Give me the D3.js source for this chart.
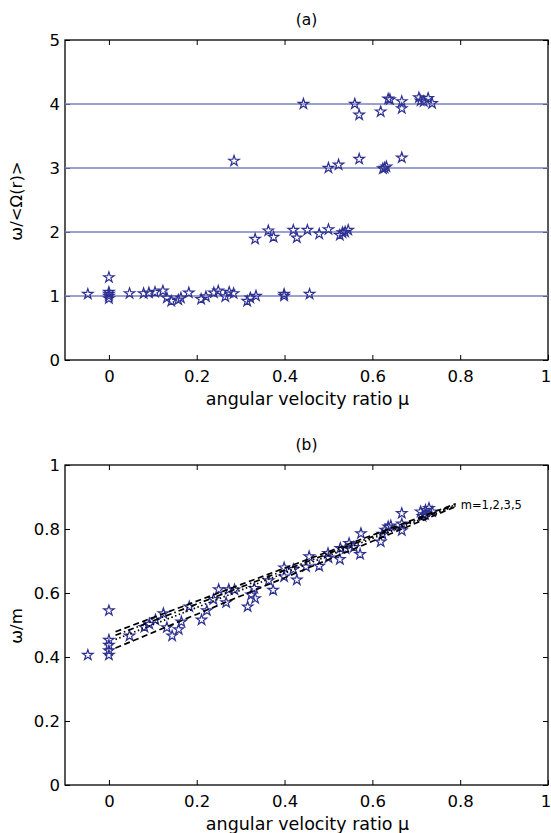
<!DOCTYPE html>
<html>
<head>
<meta charset="utf-8">
<script src="https://cdn.jsdelivr.net/npm/d3@7/dist/d3.min.js"></script>
<style>
  html, body { margin: 0; padding: 0; background: #fff; }
  svg { display: block; font-family: "DejaVu Sans", "Open Sans", sans-serif; }
</style>
</head>
<body>
<svg id="chart" width="551" height="833"></svg>
<script>
// panel (a): omega / <Omega(r)> against mu
const muA = [
  -0.048, 0, 0, 0, 0, 0, 0.047, 0.079, 0.091, 0.105, 0.123, 0.132, 0.142, 0.158, 0.164,
  0.182, 0.21, 0.221, 0.239, 0.249, 0.265, 0.274, 0.284, 0.315, 0.322, 0.335, 0.399, 0.399, 0.457,
  0.333, 0.363, 0.375, 0.42, 0.428, 0.452, 0.479, 0.5, 0.526, 0.532, 0.538, 0.545,
  0.285, 0.5, 0.523, 0.57, 0.624, 0.628, 0.632, 0.667,
  0.443, 0.56, 0.57, 0.619, 0.636, 0.64, 0.667, 0.667, 0.706, 0.71, 0.717, 0.727, 0.736
];
const omegaA = [
  1.03, 1.29, 1.06, 1.03, 1.0, 0.96, 1.04, 1.04, 1.05, 1.06, 1.08, 0.97, 0.92, 0.94, 0.97,
  1.05, 0.95, 0.99, 1.05, 1.08, 0.99, 1.06, 1.04, 0.92, 0.97, 1.0, 1.03, 1.0, 1.03,
  1.89, 2.02, 1.92, 2.03, 1.91, 2.03, 1.97, 2.04, 1.95, 1.99, 2.0, 2.03,
  3.11, 3.0, 3.05, 3.14, 2.99, 3.0, 3.02, 3.16,
  4.0, 4.0, 3.83, 3.88, 4.08, 4.07, 4.04, 3.93, 4.1, 4.05, 4.04, 4.09, 4.01
];
const levelsA = [1, 2, 3, 4];

// panel (b): omega / m against mu
const muB = [
  -0.048, 0, 0, 0, 0, 0, 0.047, 0.081, 0.092, 0.106, 0.124, 0.132, 0.144, 0.159, 0.165,
  0.183, 0.211, 0.223, 0.238, 0.25, 0.267, 0.273, 0.286, 0.316, 0.324, 0.331, 0.333,
  0.364, 0.374, 0.399, 0.399, 0.42, 0.428, 0.449, 0.456, 0.479, 0.499, 0.5, 0.526, 0.527,
  0.539, 0.547, 0.558, 0.572, 0.574, 0.619, 0.623, 0.629, 0.636, 0.642, 0.667, 0.667, 0.667,
  0.71, 0.714, 0.72, 0.721, 0.729, 0.736
];
const omegaB = [
  0.406, 0.545, 0.453, 0.437, 0.42, 0.406, 0.466, 0.493, 0.503, 0.516, 0.536, 0.492, 0.466, 0.486, 0.51,
  0.557, 0.516, 0.545, 0.58, 0.611, 0.57, 0.611, 0.61, 0.557, 0.594, 0.615, 0.583,
  0.639, 0.609, 0.679, 0.651, 0.674, 0.641, 0.682, 0.714, 0.684, 0.724, 0.71, 0.705, 0.74,
  0.738, 0.755, 0.743, 0.721, 0.786, 0.76, 0.784, 0.797, 0.807, 0.81, 0.849, 0.816, 0.795,
  0.854, 0.84, 0.845, 0.859, 0.865, 0.854
];

// fitted lines for m = 1, 2, 3, 5
const fitM = [1, 2, 3, 5];
const fitMu = [0.015, 0.79];
const fitStart = [0.479, 0.468, 0.455, 0.428];
const fitEnd = [0.879, 0.876, 0.873, 0.870];
const fitDash = ['6,3.5', '6,3,1.5,3', '1.5,2.5', '6,3.5'];

const xTicks = [0, 0.2, 0.4, 0.6, 0.8, 1];
const yTicksA = [0, 1, 2, 3, 4, 5];
const yTicksB = [0, 0.2, 0.4, 0.6, 0.8, 1];

const STAR = '#2e3192';
const LEVEL = '#7a80bf';
const FONT = '"DejaVu Sans", "Open Sans", sans-serif';
const left = 65, right = 548;

const svg = d3.select('#chart');
const fmt = d3.format('~g');

function drawPanel(top, bottom, yDomain, yTicks, title, yLabel) {
  const x = d3.scaleLinear().domain([-0.1, 1]).range([left, right]);
  const y = d3.scaleLinear().domain(yDomain).range([bottom, top]);
  const g = svg.append('g');

  g.append('text')
    .attr('x', (left + right) / 2)
    .attr('y', top - 15)
    .attr('text-anchor', 'middle')
    .attr('font-size', 15.5)
    .text(title);

  const axes = [
    [d3.axisBottom(x), `translate(0,${bottom})`, true],
    [d3.axisTop(x), `translate(0,${top})`, false],
    [d3.axisLeft(y), `translate(${left},0)`, true],
    [d3.axisRight(y), `translate(${right},0)`, false]
  ];
  axes.forEach(([axis, tr, labels], i) => {
    axis.tickValues(i < 2 ? xTicks : yTicks)
      .tickSizeInner(-5)
      .tickSizeOuter(0)
      .tickPadding(i < 2 ? 10 : 5)
      .tickFormat(labels ? fmt : '');
    const ag = g.append('g').attr('transform', tr).call(axis);
    ag.select('.domain').remove();
    ag.selectAll('line').attr('stroke', '#000').attr('stroke-width', 1);
    ag.selectAll('text').attr('font-size', 16.5).attr('fill', '#000')
      .attr('font-family', FONT);
    // keep the last x label inside the picture edge
    if (i === 0) ag.selectAll('text').filter((d) => d === 1).attr('dx', -2.5);
  });

  g.append('rect')
    .attr('x', left).attr('y', top)
    .attr('width', right - left).attr('height', bottom - top)
    .attr('fill', 'none').attr('stroke', '#000').attr('stroke-width', 1.3);

  g.append('text')
    .attr('x', (left + right) / 2 + 1)
    .attr('y', bottom + 45)
    .attr('text-anchor', 'middle')
    .attr('font-size', 17.5)
    .text('angular velocity ratio μ');

  g.append('text')
    .attr('transform', `translate(22,${(top + bottom) / 2 + 1}) rotate(-90)`)
    .attr('text-anchor', 'middle')
    .attr('font-size', 16.5)
    .text(yLabel);

  return { g, x, y };
}

// panel (a)
const pa = drawPanel(40, 360, [0, 5], yTicksA, '(a)', 'ω/<Ω(r)>');
pa.g.append('g').selectAll('line')
  .data(levelsA)
  .join('line')
  .attr('x1', left).attr('x2', right)
  .attr('y1', (d) => pa.y(d)).attr('y2', (d) => pa.y(d))
  .attr('stroke', LEVEL).attr('stroke-width', 1.3);

const star = d3.symbol(d3.symbolStar, 34);
pa.g.append('g').selectAll('path')
  .data(d3.range(muA.length))
  .join('path')
  .attr('d', star)
  .attr('transform', (i) => `translate(${pa.x(muA[i])},${pa.y(omegaA[i])})`)
  .attr('fill', 'none').attr('stroke', STAR).attr('stroke-width', 1.2);

// panel (b)
const pb = drawPanel(465, 785, [0, 1], yTicksB, '(b)', 'ω/m');
pb.g.append('g').selectAll('path')
  .data(d3.range(muB.length))
  .join('path')
  .attr('d', star)
  .attr('transform', (i) => `translate(${pb.x(muB[i])},${pb.y(omegaB[i])})`)
  .attr('fill', 'none').attr('stroke', STAR).attr('stroke-width', 1.2);

const fitLine = d3.line().x((d) => pb.x(d[0])).y((d) => pb.y(d[1]));
pb.g.append('g').selectAll('path')
  .data(fitM.map((m, i) => [[fitMu[0], fitStart[i]], [fitMu[1], fitEnd[i]]]))
  .join('path')
  .attr('d', fitLine)
  .attr('fill', 'none')
  .attr('stroke', '#000')
  .attr('stroke-width', 1.7)
  .attr('stroke-dasharray', (d, i) => fitDash[i]);

pb.g.append('text')
  .attr('x', pb.x(fitMu[1]) + 5)
  .attr('y', pb.y(fitEnd[0]) + 5)
  .attr('font-size', 11.5)
  .text('m=' + fitM.join(','));
</script>
</body>
</html>
